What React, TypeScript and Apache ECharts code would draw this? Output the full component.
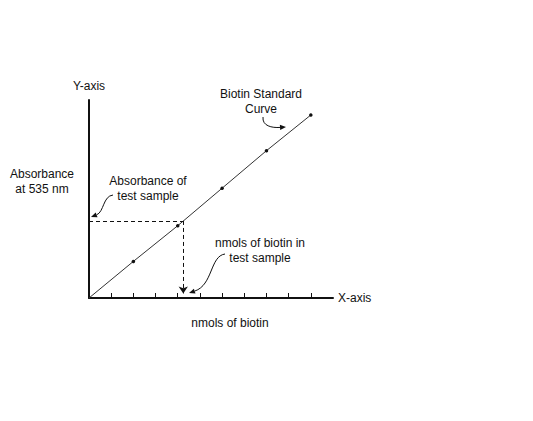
import { useEffect, useRef } from 'react'
import * as echarts from 'echarts'

// standard curve (x = nmols of biotin, y = absorbance, arbitrary units)
const CURVE_X = [0, 2, 4, 6, 8, 10]
const CURVE_Y = [0, 2.0, 3.95, 6.0, 8.05, 10.0]
const X_TICKS = [1, 2, 3, 4, 5, 6, 7, 8, 9, 10]
const SAMPLE_X = 4.25
const SAMPLE_Y = 4.21
const ARROW_END_Y = 0.25 // stop the dashed drop just above the axis so the head shows

const FONT = '12px Arial, "Liberation Sans", sans-serif'
const INK = '#111'

type Pt = [number, number]

function label(text: string, x: number, y: number) {
  return {
    type: 'text',
    x, y,
    silent: true,
    style: {
      text, font: FONT, fill: INK,
      align: 'center', verticalAlign: 'middle',
      textAlign: 'center', textVerticalAlign: 'middle',
      lineHeight: 15,
    },
  }
}

// curved pointer with a small filled head at p3
function pointer(p0: Pt, c1: Pt, c2: Pt, p3: Pt) {
  const dx = p3[0] - c2[0], dy = p3[1] - c2[1]
  const len = Math.hypot(dx, dy) || 1
  const ux = dx / len, uy = dy / len
  const hl = 6, hw = 2.6
  const bx = p3[0] - ux * hl, by = p3[1] - uy * hl
  return [
    {
      type: 'bezierCurve', silent: true,
      shape: { x1: p0[0], y1: p0[1], cpx1: c1[0], cpy1: c1[1], cpx2: c2[0], cpy2: c2[1], x2: bx, y2: by },
      style: { stroke: INK, lineWidth: 1, fill: 'none' },
    },
    {
      type: 'polygon', silent: true,
      shape: { points: [p3, [bx - uy * hw, by + ux * hw], [bx + uy * hw, by - ux * hw]] },
      style: { fill: INK },
    },
  ]
}

export default function App() {
  const ref = useRef<HTMLDivElement>(null)

  useEffect(() => {
    if (!ref.current) return
    const chart = echarts.init(ref.current, null, { renderer: 'svg' })

    const curve = CURVE_X.map((x, i) =>
      i === 0 ? { value: [x, CURVE_Y[i]], symbol: 'none' } : { value: [x, CURVE_Y[i]] })

    chart.setOption({
      animation: false,
      backgroundColor: '#fff',
      grid: { left: 89, top: 100, right: 200, bottom: 123 },
      xAxis: {
        type: 'value',
        min: 0, max: 11, interval: 1,
        name: 'X-axis',
        nameLocation: 'end',
        nameGap: 5,
        nameTextStyle: { color: INK, fontSize: 12, fontFamily: 'Arial, "Liberation Sans", sans-serif', verticalAlign: 'middle', padding: [4, 0, 0, 0] },
        axisLine: { show: true, lineStyle: { color: INK, width: 2 } },
        axisTick: { show: true, inside: true, length: 5, customValues: X_TICKS, lineStyle: { color: INK, width: 1 } },
        axisLabel: { show: false },
        splitLine: { show: false },
      },
      yAxis: {
        type: 'value',
        min: 0, max: 10.82,
        name: 'Y-axis',
        nameLocation: 'end',
        nameGap: 14,
        nameTextStyle: { color: INK, fontSize: 12, fontFamily: 'Arial, "Liberation Sans", sans-serif', align: 'center', verticalAlign: 'middle' },
        axisLine: { show: true, lineStyle: { color: INK, width: 2 } },
        axisTick: { show: false },
        axisLabel: { show: false },
        splitLine: { show: false },
      },
      series: [
        {
          type: 'line',
          data: curve,
          symbol: 'circle',
          symbolSize: 3.5,
          itemStyle: { color: INK },
          lineStyle: { color: '#333', width: 1 },
          silent: true,
          z: 3,
          markLine: {
            silent: true,
            symbol: ['none', 'none'],
            label: { show: false },
            lineStyle: { color: INK, width: 1, type: [4, 3] },
            data: [[{ coord: [0, SAMPLE_Y] }, { coord: [SAMPLE_X, SAMPLE_Y] }]],
          },
        },
        {
          type: 'line',
          data: [],
          silent: true,
          markLine: {
            silent: true,
            symbol: ['none', 'arrow'],
            symbolSize: 7,
            itemStyle: { color: INK },
            label: { show: false },
            lineStyle: { color: INK, width: 1, type: [4, 3] },
            data: [[{ coord: [SAMPLE_X, SAMPLE_Y] }, { coord: [SAMPLE_X, ARROW_END_Y] }]],
          },
        },
      ],
      graphic: [
        label('Absorbance\nat 535 nm', 42, 181.5),
        label('Absorbance of\ntest sample', 148, 188.5),
        label('Biotin Standard\nCurve', 261, 101.5),
        label('nmols of biotin in\ntest sample', 260, 250.5),
        label('nmols of biotin', 230, 323),
        ...pointer([263, 117], [262, 126], [272, 128], [286, 127]),
        ...pointer([113, 195], [103, 196], [104, 212], [91, 217]),
        ...pointer([225, 254], [210, 256], [213, 285], [189, 293]),
      ],
    })

    return () => chart.dispose()
  }, [])

  return <div ref={ref} style={{ position: 'fixed', left: 0, top: 0, width: 533, height: 421, background: '#fff' }} />
}
